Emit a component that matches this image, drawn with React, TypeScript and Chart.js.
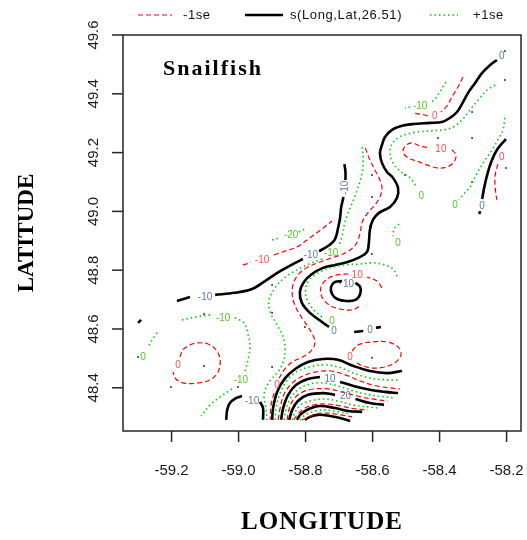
import React, { useEffect, useRef } from 'react';
import { Chart, registerables } from 'chart.js';

Chart.register(...registerables);

type P = [number, number];

// ---- axes ----
const X_TICKS = [-59.2, -59.0, -58.8, -58.6, -58.4, -58.2];
const Y_TICKS = [48.4, 48.6, 48.8, 49.0, 49.2, 49.4, 49.6];
const X_MIN = -59.345;
const X_MAX = -58.157;
const Y_MIN = 48.253;
const Y_MAX = 49.6;

// ---- fitted surface s(Long,Lat,26.51) contours (black) ----
const FIT_MAIN: P[] = [[-58.229,49.515],[-58.249,49.498],[-58.273,49.471],[-58.294,49.437],[-58.315,49.403],[-58.330,49.372],[-58.348,49.338],[-58.369,49.318],[-58.393,49.304],[-58.429,49.301],[-58.479,49.297],[-58.512,49.291],[-58.542,49.277],[-58.563,49.253],[-58.572,49.226],[-58.578,49.199],[-58.572,49.165],[-58.557,49.134],[-58.539,49.114],[-58.524,49.080],[-58.527,49.046],[-58.548,49.015],[-58.581,48.995],[-58.599,48.971],[-58.608,48.937],[-58.611,48.896],[-58.617,48.862],[-58.643,48.842],[-58.675,48.828],[-58.712,48.818],[-58.748,48.808],[-58.781,48.787],[-58.805,48.760],[-58.817,48.726],[-58.811,48.689],[-58.787,48.655],[-58.751,48.624],[-58.730,48.607]];
const FIT_M10_A: P[] = [[-59.184,48.695],[-59.145,48.709]];
const FIT_M10_B: P[] = [[-59.070,48.716],[-59.011,48.723],[-58.960,48.736],[-58.921,48.763],[-58.876,48.797],[-58.831,48.825],[-58.808,48.838]];
const FIT_M10_C: P[] = [[-58.760,48.865],[-58.733,48.882],[-58.712,48.906],[-58.703,48.944],[-58.697,48.978],[-58.694,49.012],[-58.687,49.049]];
const FIT_M10_D: P[] = [[-58.681,49.107],[-58.681,49.134],[-58.684,49.161]];
const FIT_RIGHT_A: P[] = [[-58.202,49.246],[-58.229,49.209],[-58.246,49.168],[-58.258,49.124],[-58.267,49.080],[-58.273,49.042]];
const FIT_RIGHT_B: P[] = [[-58.279,49.001],[-58.282,48.991]];
const FIT_P10_LOOP: P[] = [[-58.691,48.763],[-58.712,48.760],[-58.724,48.743],[-58.721,48.719],[-58.706,48.702],[-58.678,48.695],[-58.651,48.699],[-58.637,48.719],[-58.637,48.743],[-58.651,48.757]];
const FIT_SHORT_A: P[] = [[-58.655,48.590],[-58.628,48.593]];
const FIT_SHORT_B: P[] = [[-58.590,48.604],[-58.575,48.607]];
const FIT_ARC_1: P[] = [[-58.900,48.291],[-58.897,48.331],[-58.885,48.386],[-58.861,48.433],[-58.831,48.464],[-58.793,48.488],[-58.748,48.498],[-58.703,48.495],[-58.657,48.474],[-58.608,48.457],[-58.557,48.450],[-58.512,48.457]];
const FIT_ARC_2A: P[] = [[-58.873,48.291],[-58.867,48.331],[-58.852,48.376],[-58.828,48.410],[-58.793,48.430],[-58.757,48.437]];
const FIT_ARC_2B: P[] = [[-58.697,48.420],[-58.657,48.406],[-58.608,48.393],[-58.563,48.386],[-58.524,48.382]];
const FIT_ARC_3A: P[] = [[-58.849,48.291],[-58.840,48.325],[-58.823,48.355],[-58.793,48.376],[-58.748,48.382],[-58.712,48.376]];
const FIT_ARC_3B: P[] = [[-58.651,48.362],[-58.608,48.348],[-58.566,48.342]];
const FIT_ARC_4: P[] = [[-58.826,48.291],[-58.814,48.311],[-58.790,48.328],[-58.757,48.338],[-58.712,48.331],[-58.672,48.321],[-58.631,48.318]];
const FIT_ARC_5: P[] = [[-58.802,48.291],[-58.787,48.301],[-58.763,48.308],[-58.727,48.304],[-58.687,48.294],[-58.667,48.287]];
const FIT_LEFT_A: P[] = [[-59.037,48.291],[-59.034,48.325],[-59.026,48.348],[-59.008,48.365],[-58.990,48.372]];
const FIT_LEFT_B: P[] = [[-58.936,48.352],[-58.927,48.331],[-58.927,48.291]];
const FIT_TICK: P[] = [[-59.300,48.621],[-59.291,48.631]];

// ---- -1se contours (red dashed) ----
const LO_R1_A: P[] = [[-58.330,49.457],[-58.345,49.423],[-58.363,49.389],[-58.378,49.359],[-58.396,49.338]];
const LO_R1_B: P[] = [[-58.435,49.325],[-58.458,49.331],[-58.482,49.335]];
const LO_R2: P[] = [[-58.363,49.209],[-58.351,49.192],[-58.357,49.168],[-58.378,49.151],[-58.408,49.148],[-58.438,49.158],[-58.467,49.171],[-58.494,49.182],[-58.509,49.202],[-58.503,49.222],[-58.482,49.233],[-58.458,49.222],[-58.429,49.216]];
const LO_R3_A: P[] = [[-58.622,49.216],[-58.608,49.175],[-58.593,49.141],[-58.578,49.107],[-58.572,49.080],[-58.578,49.049],[-58.593,49.022],[-58.614,48.995],[-58.631,48.964],[-58.637,48.927],[-58.651,48.886],[-58.681,48.859],[-58.721,48.842],[-58.757,48.828],[-58.793,48.811],[-58.817,48.791],[-58.835,48.760],[-58.840,48.719],[-58.831,48.678],[-58.811,48.638],[-58.787,48.597],[-58.772,48.559],[-58.781,48.529],[-58.808,48.505],[-58.840,48.488],[-58.864,48.461],[-58.879,48.433]];
const LO_R3_B: P[] = [[-58.894,48.382],[-58.903,48.342],[-58.906,48.291]];
const LO_R4_A: P[] = [[-58.987,48.818],[-58.963,48.825]];
const LO_R4_B: P[] = [[-58.894,48.852],[-58.861,48.865],[-58.826,48.879],[-58.787,48.910],[-58.751,48.940],[-58.721,48.967]];
const LO_R5_A: P[] = [[-58.572,48.740],[-58.587,48.763],[-58.617,48.777]];
const LO_R5_B: P[] = [[-58.672,48.787],[-58.706,48.784],[-58.736,48.770],[-58.754,48.743],[-58.751,48.709],[-58.730,48.682],[-58.697,48.668],[-58.661,48.665],[-58.637,48.678]];
const LO_R6: P[] = [[-58.661,48.525],[-58.643,48.546],[-58.602,48.556],[-58.557,48.556],[-58.524,48.539],[-58.515,48.512],[-58.530,48.488],[-58.563,48.471],[-58.602,48.467],[-58.637,48.478],[-58.651,48.488]];
const LO_R7: P[] = [[-59.175,48.505],[-59.166,48.529],[-59.145,48.546],[-59.121,48.553],[-59.091,48.549],[-59.067,48.529],[-59.055,48.495],[-59.061,48.454],[-59.085,48.427],[-59.124,48.416],[-59.163,48.416],[-59.187,48.430],[-59.196,48.454]];
const LO_R8: P[] = [[-58.226,49.161],[-58.234,49.124],[-58.234,49.080],[-58.229,49.039]];
const LO_ARC_1: P[] = [[-58.882,48.291],[-58.876,48.331],[-58.864,48.379],[-58.840,48.416],[-58.808,48.440],[-58.769,48.454],[-58.727,48.457],[-58.681,48.444],[-58.637,48.423],[-58.587,48.406],[-58.542,48.399],[-58.518,48.396]];
const LO_ARC_2: P[] = [[-58.855,48.291],[-58.849,48.328],[-58.835,48.362],[-58.808,48.386],[-58.775,48.396],[-58.733,48.396],[-58.691,48.386],[-58.646,48.372],[-58.602,48.362],[-58.554,48.355]];
const LO_ARC_3: P[] = [[-58.835,48.291],[-58.823,48.311],[-58.802,48.331],[-58.775,48.342],[-58.736,48.345],[-58.694,48.338],[-58.651,48.328],[-58.614,48.325]];
const LO_ARC_4: P[] = [[-58.811,48.291],[-58.796,48.297],[-58.772,48.311],[-58.736,48.314],[-58.697,48.308],[-58.661,48.301]];

// ---- +1se contours (green dotted) ----
const HI_G1: P[] = [[-58.234,49.430],[-58.258,49.413],[-58.285,49.379],[-58.309,49.345],[-58.333,49.311],[-58.360,49.287],[-58.390,49.277],[-58.429,49.274],[-58.467,49.270],[-58.497,49.263],[-58.524,49.250],[-58.542,49.229],[-58.548,49.199],[-58.539,49.165],[-58.518,49.137],[-58.488,49.114],[-58.467,49.080]];
const HI_G2_A: P[] = [[-58.381,49.440],[-58.396,49.413],[-58.411,49.386],[-58.426,49.369]];
const HI_G2_B: P[] = [[-58.488,49.355],[-58.503,49.352]];
const HI_G3: P[] = [[-58.205,49.318],[-58.211,49.277],[-58.226,49.243],[-58.243,49.209],[-58.264,49.175],[-58.279,49.148],[-58.294,49.117],[-58.309,49.083],[-58.330,49.056],[-58.342,49.039]];
const HI_G4: P[] = [[-58.521,48.957],[-58.536,48.940],[-58.539,48.916]];
const HI_G5_A: P[] = [[-58.631,49.219],[-58.628,49.175],[-58.631,49.131],[-58.643,49.083],[-58.657,49.039],[-58.672,48.998],[-58.684,48.957],[-58.691,48.916],[-58.700,48.886]];
const HI_G5_B: P[] = [[-58.751,48.838],[-58.796,48.818],[-58.837,48.794],[-58.867,48.770],[-58.891,48.740],[-58.909,48.699],[-58.906,48.658],[-58.885,48.614],[-58.867,48.573],[-58.861,48.529],[-58.867,48.488],[-58.882,48.454],[-58.909,48.420],[-58.924,48.376],[-58.918,48.331],[-58.915,48.291]];
const HI_G6_A: P[] = [[-59.169,48.631],[-59.127,48.641],[-59.085,48.648]];
const HI_G6_B: P[] = [[-59.011,48.638],[-58.984,48.621],[-58.972,48.583],[-58.966,48.539],[-58.972,48.495],[-58.981,48.454]];
const HI_G6_C: P[] = [[-59.020,48.396],[-59.055,48.369],[-59.085,48.342],[-59.112,48.304]];
const HI_G7: P[] = [[-59.243,48.587],[-59.258,48.563],[-59.270,48.539]];
const HI_G8_A: P[] = [[-58.900,48.903],[-58.876,48.910]];
const HI_G8_B: P[] = [[-58.820,48.930],[-58.802,48.940]];
const HI_G9: P[] = [[-58.751,48.641],[-58.781,48.672],[-58.799,48.712],[-58.796,48.753],[-58.772,48.784],[-58.727,48.808],[-58.681,48.818],[-58.637,48.821],[-58.599,48.825],[-58.563,48.818],[-58.539,48.804],[-58.527,48.780]];
const HI_ARC_1: P[] = [[-58.891,48.291],[-58.888,48.331],[-58.876,48.382],[-58.852,48.430],[-58.823,48.457],[-58.787,48.471],[-58.748,48.478],[-58.703,48.471],[-58.657,48.450],[-58.608,48.433],[-58.557,48.427],[-58.518,48.427]];
const HI_ARC_2: P[] = [[-58.864,48.291],[-58.858,48.328],[-58.843,48.369],[-58.820,48.396],[-58.787,48.413],[-58.748,48.416],[-58.703,48.406],[-58.657,48.389],[-58.608,48.376],[-58.563,48.369],[-58.533,48.365]];
const HI_ARC_3: P[] = [[-58.840,48.291],[-58.831,48.318],[-58.814,48.342],[-58.787,48.355],[-58.748,48.362],[-58.703,48.355],[-58.661,48.342],[-58.614,48.335],[-58.584,48.331]];
const HI_ARC_4: P[] = [[-58.817,48.291],[-58.805,48.304],[-58.781,48.318],[-58.745,48.325],[-58.703,48.318],[-58.667,48.311]];

// ---- sampling stations ----
const STATIONS: P[] = [[-58.205,49.546],[-58.205,49.447],[-58.303,49.338],[-58.405,49.250],[-58.303,49.250],[-58.202,49.148],[-58.602,49.124],[-58.503,49.124],[-58.303,49.100],[-58.602,49.049],[-58.608,48.950],[-58.602,48.855],[-58.697,48.757],[-58.900,48.750],[-58.900,48.655],[-59.103,48.651],[-59.103,48.474],[-59.202,48.403],[-59.002,48.403],[-58.802,48.607],[-58.900,48.471],[-58.602,48.502],[-59.300,48.505]];

// ---- contour labels: text, lon, lat ----
const FIT_LABELS: [string, number, number][] = [['0',-58.214,49.529],['0',-58.715,48.593],['-10',-59.100,48.709],['-10',-58.784,48.852],['0',-58.273,49.018],['10',-58.672,48.753],['0',-58.608,48.597],['10',-58.727,48.430],['20',-58.681,48.372],['-10',-58.960,48.355]];
const FIT_VERTICAL_LABELS: [string, number, number][] = [['-10',-58.681,49.080]];
const LO_LABELS: [string, number, number][] = [['0',-58.414,49.325],['10',-58.396,49.212],['0',-58.885,48.410],['-10',-58.930,48.835],['10',-58.646,48.784],['0',-58.667,48.505],['0',-59.181,48.478],['0',-58.214,49.185]];
const HI_LABELS: [string, number, number][] = [['0',-58.455,49.052],['-10',-58.458,49.359],['0',-58.354,49.022],['0',-58.524,48.893],['-10',-58.724,48.859],['-10',-59.046,48.638],['-10',-58.993,48.427],['0',-59.285,48.505],['-20',-58.843,48.920],['0',-58.721,48.627]];

const FIT_LINES: P[][] = [FIT_MAIN, FIT_M10_A, FIT_M10_B, FIT_M10_C, FIT_M10_D, FIT_RIGHT_A, FIT_RIGHT_B, FIT_P10_LOOP, FIT_SHORT_A, FIT_SHORT_B, FIT_ARC_1, FIT_ARC_2A, FIT_ARC_2B, FIT_ARC_3A, FIT_ARC_3B, FIT_ARC_4, FIT_ARC_5, FIT_LEFT_A, FIT_LEFT_B, FIT_TICK];
const LO_LINES: P[][] = [LO_R1_A, LO_R1_B, LO_R2, LO_R3_A, LO_R3_B, LO_R4_A, LO_R4_B, LO_R5_A, LO_R5_B, LO_R6, LO_R7, LO_R8, LO_ARC_1, LO_ARC_2, LO_ARC_3, LO_ARC_4];
const HI_LINES: P[][] = [HI_G1, HI_G2_A, HI_G2_B, HI_G3, HI_G4, HI_G5_A, HI_G5_B, HI_G6_A, HI_G6_B, HI_G6_C, HI_G7, HI_G8_A, HI_G8_B, HI_G9, HI_ARC_1, HI_ARC_2, HI_ARC_3, HI_ARC_4];

const STYLE = {
  fit: { color: '#000000', width: 2.6, dash: [] as number[] },
  lo: { color: '#ff0000', width: 1.2, dash: [5, 3] },
  hi: { color: '#00cd00', width: 1.6, dash: [1.5, 3] },
};
const LABEL_COLORS = { fit: '#5d7aa6', lo: '#ff4d4d', hi: '#55c82a' };

const SANS = '"Liberation Sans", Arial, sans-serif';
const SERIF = '"Liberation Serif", "Times New Roman", serif';

function lineDataset(points: P[], style: { color: string; width: number; dash: number[] }) {
  return {
    data: points.map(([x, y]) => ({ x, y })),
    showLine: true,
    borderColor: style.color,
    backgroundColor: style.color,
    borderWidth: style.width,
    borderDash: style.dash,
    borderCapStyle: 'butt',
    pointRadius: 0,
    tension: 0.35,
    fill: false,
  };
}

const decor = {
  id: 'decor',
  afterDatasetsDraw(chart: any) {
    const { ctx, chartArea: a } = chart;
    const xs = chart.scales.x;
    const ys = chart.scales.y;
    ctx.save();

    // contour labels
    ctx.font = `10px ${SANS}`;
    ctx.textAlign = 'center';
    ctx.textBaseline = 'middle';
    const drawLabels = (list: [string, number, number][], color: string) => {
      ctx.fillStyle = color;
      list.forEach(([t, lon, lat]) => ctx.fillText(t, xs.getPixelForValue(lon), ys.getPixelForValue(lat)));
    };
    drawLabels(FIT_LABELS, LABEL_COLORS.fit);
    drawLabels(LO_LABELS, LABEL_COLORS.lo);
    drawLabels(HI_LABELS, LABEL_COLORS.hi);
    ctx.fillStyle = LABEL_COLORS.fit;
    FIT_VERTICAL_LABELS.forEach(([t, lon, lat]) => {
      ctx.save();
      ctx.translate(xs.getPixelForValue(lon), ys.getPixelForValue(lat));
      ctx.rotate(-Math.PI / 2);
      ctx.fillText(t, 0, 0);
      ctx.restore();
    });

    // frame
    ctx.strokeStyle = '#262626';
    ctx.lineWidth = 1.5;
    ctx.setLineDash([]);
    ctx.strokeRect(a.left, a.top, a.right - a.left, a.bottom - a.top);

    // ticks and tick labels
    ctx.fillStyle = '#1a1a1a';
    ctx.font = `15px ${SANS}`;
    xs.ticks.forEach((t: any) => {
      const px = xs.getPixelForValue(t.value);
      ctx.beginPath();
      ctx.moveTo(px, a.bottom);
      ctx.lineTo(px, a.bottom + 11);
      ctx.stroke();
      ctx.fillText(t.value.toFixed(1), px, a.bottom + 40);
    });
    ys.ticks.forEach((t: any) => {
      const py = ys.getPixelForValue(t.value);
      ctx.beginPath();
      ctx.moveTo(a.left, py);
      ctx.lineTo(a.left - 11, py);
      ctx.stroke();
      ctx.save();
      ctx.translate(a.left - 29, py);
      ctx.rotate(-Math.PI / 2);
      ctx.fillText(t.value.toFixed(1), 0, 0);
      ctx.restore();
    });

    // axis titles
    ctx.fillStyle = '#000';
    ctx.font = `bold 25px ${SERIF}`;
    (ctx as any).letterSpacing = '1px';
    ctx.fillText('LONGITUDE', (a.left + a.right) / 2, 523);
    ctx.font = `bold 23px ${SERIF}`;
    (ctx as any).letterSpacing = '0px';
    ctx.save();
    ctx.translate(27, (a.top + a.bottom) / 2);
    ctx.rotate(-Math.PI / 2);
    ctx.fillText('LATITUDE', 0, 0);
    ctx.restore();

    // panel title
    ctx.font = `bold 22px ${SERIF}`;
    (ctx as any).letterSpacing = '2px';
    ctx.textAlign = 'left';
    ctx.textBaseline = 'alphabetic';
    ctx.fillText('Snailfish', 163, 75);

    // legend
    (ctx as any).letterSpacing = '0.6px';
    ctx.font = `13px ${SANS}`;
    ctx.textBaseline = 'middle';
    const ly = 15;
    const items: [keyof typeof STYLE, string, number, number, number][] = [
      ['lo', '-1se', 138, 172, 183],
      ['fit', 's(Long,Lat,26.51)', 245, 283, 290],
      ['hi', '+1se', 430, 458, 473],
    ];
    items.forEach(([k, text, x0, x1, tx]) => {
      const s = STYLE[k];
      ctx.strokeStyle = s.color;
      ctx.lineWidth = s.width;
      ctx.setLineDash(s.dash);
      ctx.beginPath();
      ctx.moveTo(x0, ly);
      ctx.lineTo(x1, ly);
      ctx.stroke();
      ctx.setLineDash([]);
      ctx.fillStyle = '#111';
      ctx.fillText(text, tx, ly);
    });
    ctx.restore();
  },
};

export default function App() {
  const ref = useRef<HTMLCanvasElement | null>(null);
  useEffect(() => {
    if (!ref.current) return;
    const datasets: any[] = [
      ...HI_LINES.map((l) => lineDataset(l, STYLE.hi)),
      ...LO_LINES.map((l) => lineDataset(l, STYLE.lo)),
      ...FIT_LINES.map((l) => lineDataset(l, STYLE.fit)),
      {
        data: STATIONS.map(([x, y]) => ({ x, y })),
        showLine: false,
        pointRadius: 1,
        pointBorderWidth: 0,
        backgroundColor: '#333',
        borderColor: '#333',
      },
    ];
    const chart = new Chart(ref.current, {
      type: 'scatter',
      data: { datasets },
      options: {
        animation: false,
        responsive: true,
        maintainAspectRatio: false,
        layout: { padding: { left: 123, top: 35, right: 6, bottom: 109 } },
        plugins: { legend: { display: false }, tooltip: { enabled: false } },
        scales: {
          x: {
            type: 'linear', display: false, min: X_MIN, max: X_MAX,
            afterBuildTicks: (s: any) => { s.ticks = X_TICKS.map((v) => ({ value: v })); },
          },
          y: {
            type: 'linear', display: false, min: Y_MIN, max: Y_MAX,
            afterBuildTicks: (s: any) => { s.ticks = Y_TICKS.map((v) => ({ value: v })); },
          },
        },
      } as any,
      plugins: [decor],
    });
    return () => chart.destroy();
  }, []);
  return (
    <div style={{ position: 'fixed', left: 0, top: 0, width: 527, height: 540, background: '#fff' }}>
      <canvas ref={ref} />
    </div>
  );
}
